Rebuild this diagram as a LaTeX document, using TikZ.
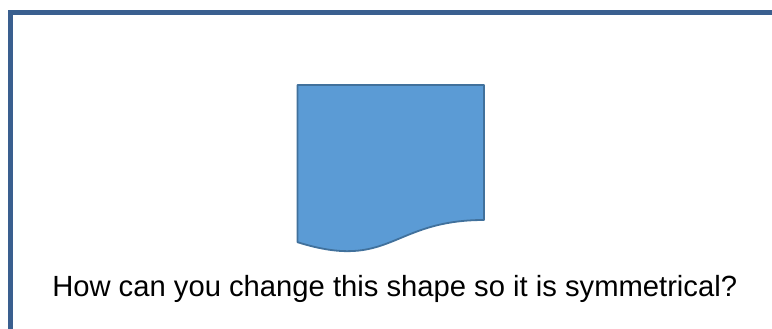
\documentclass[tikz,border=0pt]{standalone}
\usepackage{fontspec}
\setmainfont{Liberation Sans}
\definecolor{framec}{HTML}{3A5F8F}
\definecolor{docfill}{HTML}{5B9BD5}
\definecolor{docline}{HTML}{41719C}
\begin{document}
\begin{tikzpicture}[x=1pt,y=-1pt,
  frameline/.style={draw=framec,line width=5pt},
  docshape/.style={fill=docfill,draw=docline,line width=1.8pt,line join=round},
  question/.style={font=\fontsize{29.2}{34}\selectfont,text=black,inner sep=0pt,anchor=base}]
\useasboundingbox (0,0) rectangle (772,329);
\draw[frameline] (10,340) -- (10,13) -- (785,13);
\draw[docshape] (297.5,85) -- (484,85) -- (484,220)
  .. controls (390.75,220) and (390.75,271.4) .. (297.5,242.2) -- cycle;
\node[question] (q) at (394.7,296) {How can you change this shape so it is symmetrical?};
\end{tikzpicture}
\end{document}
